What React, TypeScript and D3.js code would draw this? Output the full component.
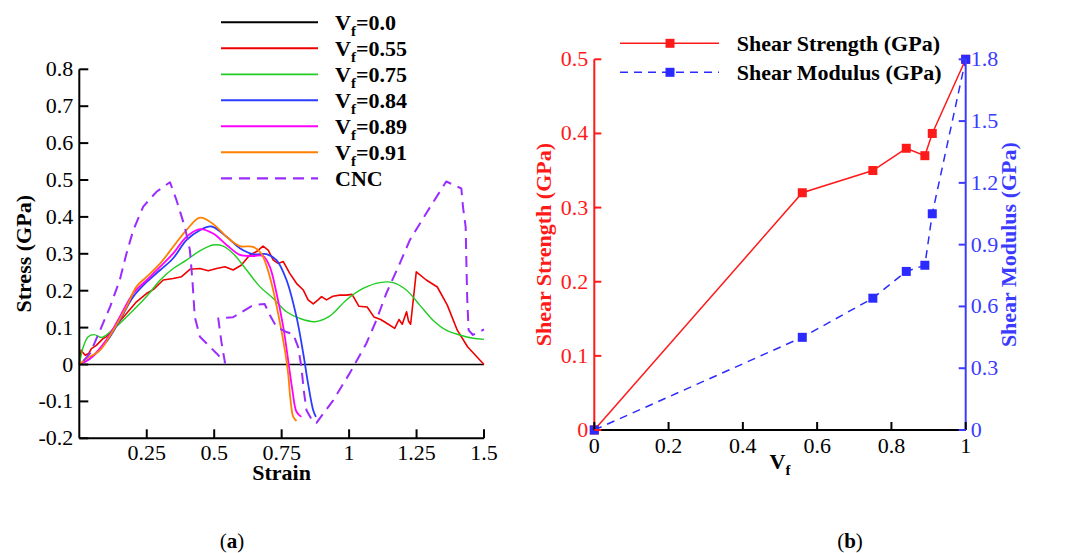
import React from 'react';
import * as d3 from 'd3';

// (a) stress-strain curves, [strain, stress GPa]
const vf00: [number, number][] = [[0, 0], [0.5, 0], [1, 0], [1.5, 0]];

const vf055: [number, number][] = [
  [0, 0], [0.007, 0.039], [0.012, 0.034], [0.022, 0.025], [0.035, 0.03], [0.045, 0.043],
  [0.063, 0.052], [0.088, 0.07], [0.1, 0.075], [0.138, 0.107], [0.175, 0.138],
  [0.212, 0.17], [0.25, 0.193], [0.274, 0.203], [0.311, 0.229], [0.348, 0.233],
  [0.379, 0.238], [0.41, 0.258], [0.447, 0.26], [0.478, 0.254], [0.509, 0.26],
  [0.54, 0.265], [0.57, 0.256], [0.6, 0.269], [0.632, 0.297], [0.657, 0.306],
  [0.681, 0.321], [0.7, 0.31], [0.719, 0.283], [0.737, 0.274], [0.756, 0.279],
  [0.78, 0.247], [0.805, 0.22], [0.83, 0.202], [0.848, 0.175], [0.867, 0.164],
  [0.885, 0.175], [0.898, 0.184], [0.916, 0.175], [0.94, 0.185], [0.965, 0.188],
  [0.99, 0.188], [1.011, 0.19], [1.036, 0.158], [1.067, 0.156], [1.092, 0.129],
  [1.117, 0.122], [1.141, 0.111], [1.169, 0.098], [1.185, 0.122], [1.197, 0.109],
  [1.213, 0.143], [1.22, 0.118], [1.228, 0.109], [1.249, 0.251], [1.286, 0.229],
  [1.327, 0.21], [1.364, 0.161], [1.401, 0.093], [1.439, 0.048], [1.5, 0],
];

const vf075: [number, number][] = [
  [0, 0], [0.015, 0.048], [0.033, 0.075], [0.055, 0.081], [0.083, 0.073],
  [0.1, 0.08], [0.15, 0.111], [0.2, 0.147], [0.25, 0.185], [0.3, 0.229],
  [0.348, 0.26], [0.397, 0.283], [0.447, 0.308], [0.496, 0.324], [0.533, 0.321],
  [0.57, 0.301], [0.62, 0.256], [0.669, 0.211], [0.719, 0.179], [0.768, 0.143],
  [0.817, 0.125], [0.873, 0.116], [0.928, 0.131], [0.99, 0.175], [1.052, 0.206],
  [1.114, 0.222], [1.163, 0.222], [1.212, 0.202], [1.262, 0.161], [1.311, 0.12],
  [1.36, 0.093], [1.41, 0.08], [1.459, 0.071], [1.5, 0.068],
];

const vf084: [number, number][] = [
  [0, 0], [0.04, 0.016], [0.1, 0.061], [0.15, 0.12], [0.2, 0.184], [0.25, 0.224],
  [0.3, 0.256], [0.348, 0.288], [0.397, 0.337], [0.447, 0.364], [0.49, 0.374],
  [0.546, 0.346], [0.595, 0.315], [0.644, 0.299], [0.694, 0.299], [0.731, 0.283],
  [0.768, 0.229], [0.805, 0.129], [0.83, 0.03], [0.848, -0.052], [0.867, -0.124],
  [0.877, -0.142],
];

const vf089: [number, number][] = [
  [0, 0], [0.04, 0.016], [0.1, 0.066], [0.15, 0.129], [0.2, 0.193], [0.25, 0.229],
  [0.3, 0.265], [0.348, 0.301], [0.397, 0.346], [0.447, 0.367], [0.496, 0.355],
  [0.546, 0.324], [0.595, 0.297], [0.644, 0.294], [0.681, 0.294], [0.706, 0.265],
  [0.731, 0.193], [0.756, 0.102], [0.774, 0.012], [0.79, -0.07], [0.805, -0.128],
  [0.823, -0.142],
];

const vf091: [number, number][] = [
  [0, 0], [0.027, 0.016], [0.077, 0.039], [0.126, 0.093], [0.175, 0.156],
  [0.212, 0.211], [0.25, 0.238], [0.3, 0.274], [0.348, 0.319], [0.397, 0.364],
  [0.447, 0.398], [0.496, 0.381], [0.546, 0.346], [0.595, 0.321], [0.644, 0.319],
  [0.675, 0.3], [0.706, 0.238], [0.737, 0.138], [0.762, 0.039], [0.774, -0.024],
  [0.783, -0.097], [0.793, -0.142], [0.805, -0.153],
];

const cnc: [number, number][] = [
  [0.015, 0.01], [0.04, 0.03], [0.077, 0.093], [0.114, 0.156], [0.15, 0.229],
  [0.175, 0.301], [0.2, 0.364], [0.237, 0.428], [0.286, 0.468], [0.336, 0.494],
  [0.36, 0.446], [0.391, 0.373], [0.41, 0.31], [0.42, 0.22], [0.428, 0.129],
  [0.447, 0.075], [0.472, 0.057], [0.509, 0.03], [0.54, 0.005], [0.527, 0.06],
  [0.515, 0.125], [0.57, 0.128], [0.644, 0.161], [0.687, 0.164], [0.706, 0.134],
  [0.731, 0.102], [0.768, 0.088], [0.793, 0.082], [0.811, 0.048], [0.823, -0.006],
  [0.832, -0.07], [0.842, -0.124], [0.867, -0.156], [0.879, -0.158], [0.941, -0.097],
  [1.002, -0.024], [1.064, 0.057], [1.101, 0.12], [1.138, 0.193], [1.188, 0.274],
  [1.225, 0.337], [1.286, 0.41], [1.36, 0.496], [1.416, 0.477], [1.422, 0.428],
  [1.432, 0.373], [1.435, 0.265], [1.438, 0.175], [1.443, 0.093], [1.459, 0.08],
  [1.5, 0.095],
];

const stressTicks = [-0.2, -0.1, 0, 0.1, 0.2, 0.3, 0.4, 0.5, 0.6, 0.7, 0.8];
const strainTicks = [0.25, 0.5, 0.75, 1, 1.25, 1.5];

// (b) shear properties vs fibre fraction
const vfValues = [0, 0.56, 0.75, 0.84, 0.89, 0.91, 1.0];
const shearStrength = [0, 0.32, 0.35, 0.38, 0.37, 0.4, 0.5];
const shearModulus = [0, 0.45, 0.64, 0.77, 0.8, 1.05, 1.8];
const strengthTicks = [0, 0.1, 0.2, 0.3, 0.4, 0.5];
const modulusTicks = [0, 0.3, 0.6, 0.9, 1.2, 1.5, 1.8];
const vfTicks = [0, 0.2, 0.4, 0.6, 0.8, 1];

const curves = [
  { vf: '0.0', data: vf00, color: '#000000', dash: null, smooth: false, w: 1.6 },
  { vf: '0.55', data: vf055, color: '#ee0000', dash: null, smooth: false, w: 1.6 },
  { vf: '0.75', data: vf075, color: '#22cc22', dash: null, smooth: true, w: 1.4 },
  { vf: '0.84', data: vf084, color: '#2a3cff', dash: null, smooth: true, w: 1.8 },
  { vf: '0.89', data: vf089, color: '#ff00ff', dash: null, smooth: true, w: 1.8 },
  { vf: '0.91', data: vf091, color: '#ff8000', dash: null, smooth: true, w: 1.8 },
  { vf: null, data: cnc, color: '#9a2cff', dash: '11,7', smooth: false, w: 2 },
];

const serif = '"Liberation Serif", "Times New Roman", serif';
const fmt = (v: number) => String(+v.toFixed(2));

export default function App() {
  const xL = d3.scaleLinear([0, 1.5], [79.3, 484]);
  const yL = d3.scaleLinear([-0.2, 0.8], [438.3, 69.3]);

  const xR = d3.scaleLinear([0, 1], [594.3, 965.7]);
  const yS = d3.scaleLinear([0, 0.5], [430, 59.3]);
  const yM = d3.scaleLinear([0, 1.8], [430, 59.3]);

  const lineFor = (smooth: boolean) =>
    d3
      .line<[number, number]>()
      .x((d) => xL(d[0]))
      .y((d) => yL(d[1]))
      .curve(smooth ? d3.curveCatmullRom.alpha(0.5) : d3.curveLinear);

  const strengthLine = d3
    .line<number>()
    .x((_, i) => xR(vfValues[i]))
    .y((d) => yS(d));
  const modulusLine = d3
    .line<number>()
    .x((_, i) => xR(vfValues[i]))
    .y((d) => yM(d));

  const tickFont = { fontFamily: serif, fontSize: 22 };
  const boldFont = { fontFamily: serif, fontSize: 22, fontWeight: 'bold' as const };

  return (
    <svg
      width={1070}
      height={553}
      style={{ position: 'absolute', left: 0, top: 0, background: '#fff' }}
    >
      <rect width={1070} height={553} fill="#fff" />

      {/* ---------- (a) ---------- */}
      {curves.map((c, i) => (
        <path
          key={'c' + i}
          d={lineFor(c.smooth)(c.data) || ''}
          fill="none"
          stroke={c.color}
          strokeWidth={c.w}
          strokeDasharray={c.dash || undefined}
          strokeLinejoin="round"
        />
      ))}

      {/* axes */}
      <line x1={xL(0)} x2={xL(0)} y1={yL(0.8)} y2={yL(-0.2)} stroke="#000" strokeWidth={2} />
      <line x1={xL(0)} x2={xL(1.5)} y1={yL(-0.2)} y2={yL(-0.2)} stroke="#000" strokeWidth={2} />
      {stressTicks.map((t) => (
        <g key={'sy' + t}>
          <line x1={xL(0)} x2={xL(0) + 9} y1={yL(t)} y2={yL(t)} stroke="#000" strokeWidth={2} />
          <text x={xL(0) - 6} y={yL(t) + 7} textAnchor="end" {...tickFont}>
            {fmt(t)}
          </text>
        </g>
      ))}
      {strainTicks.map((t) => (
        <g key={'sx' + t}>
          <line x1={xL(t)} x2={xL(t)} y1={yL(-0.2)} y2={yL(-0.2) - 9} stroke="#000" strokeWidth={2} />
          <text x={xL(t)} y={460} textAnchor="middle" {...tickFont}>
            {fmt(t)}
          </text>
        </g>
      ))}
      <text x={xL(0.75)} y={480} textAnchor="middle" {...boldFont}>
        Strain
      </text>
      <text
        transform={`translate(31,${yL(0.3)}) rotate(-90)`}
        textAnchor="middle"
        {...boldFont}
      >
        Stress (GPa)
      </text>

      {/* legend (a) */}
      {curves.map((c, i) => {
        const y = 22.3 + i * 26;
        return (
          <g key={'lg' + i}>
            <line
              x1={221}
              x2={318}
              y1={y}
              y2={y}
              stroke={c.color}
              strokeWidth={c.w + 0.3}
              strokeDasharray={c.dash || undefined}
            />
            <text x={335} y={y + 7.5} {...boldFont}>
              {c.vf === null ? (
                'CNC'
              ) : (
                <>
                  V
                  <tspan fontSize={15} dy={6}>
                    f
                  </tspan>
                  <tspan dy={-6}>={c.vf}</tspan>
                </>
              )}
            </text>
          </g>
        );
      })}

      {/* ---------- (b) ---------- */}
      <path
        d={strengthLine(shearStrength) || ''}
        fill="none"
        stroke="#ff1a1a"
        strokeWidth={1.5}
      />
      <path
        d={modulusLine(shearModulus) || ''}
        fill="none"
        stroke="#2b2bff"
        strokeWidth={1.5}
        strokeDasharray="8,6"
      />
      {shearStrength.map((v, i) => (
        <rect
          key={'ms' + i}
          x={xR(vfValues[i]) - 4.5}
          y={yS(v) - 4.5}
          width={9}
          height={9}
          fill="#ff1a1a"
        />
      ))}
      {shearModulus.map((v, i) => (
        <rect
          key={'mm' + i}
          x={xR(vfValues[i]) - 4.5}
          y={yM(v) - 4.5}
          width={9}
          height={9}
          fill="#2b2bff"
        />
      ))}

      {/* axes (b) */}
      <line x1={xR(0)} x2={xR(1)} y1={yS(0)} y2={yS(0)} stroke="#000" strokeWidth={2} />
      <line x1={xR(0)} x2={xR(0)} y1={yS(0.5)} y2={yS(0)} stroke="#ff1a1a" strokeWidth={2} />
      <line x1={xR(1)} x2={xR(1)} y1={yM(1.8)} y2={yM(0)} stroke="#3b3bff" strokeWidth={2} />
      {vfTicks.map((t) => (
        <g key={'vx' + t}>
          <line x1={xR(t)} x2={xR(t)} y1={yS(0)} y2={yS(0) - 8} stroke="#000" strokeWidth={2} />
          <text x={xR(t)} y={453} textAnchor="middle" {...tickFont}>
            {fmt(t)}
          </text>
        </g>
      ))}
      {strengthTicks.map((t) => (
        <g key={'ty' + t}>
          <line x1={xR(0)} x2={xR(0) + 7} y1={yS(t)} y2={yS(t)} stroke="#ff1a1a" strokeWidth={2} />
          <text x={xR(0) - 6} y={yS(t) + 7} textAnchor="end" fill="#ff1a1a" {...tickFont}>
            {fmt(t)}
          </text>
        </g>
      ))}
      {modulusTicks.map((t) => (
        <g key={'my' + t}>
          <line x1={xR(1)} x2={xR(1) - 7} y1={yM(t)} y2={yM(t)} stroke="#3b3bff" strokeWidth={2} />
          <text x={xR(1) + 5} y={yM(t) + 7} textAnchor="start" fill="#3b3bff" {...tickFont}>
            {fmt(t)}
          </text>
        </g>
      ))}
      <text x={xR(0.5)} y={469} textAnchor="middle" {...boldFont}>
        V
        <tspan fontSize={15} dy={6}>
          f
        </tspan>
      </text>
      <text
        transform={`translate(551,${yS(0.25)}) rotate(-90)`}
        textAnchor="middle"
        fill="#ff1a1a"
        {...boldFont}
      >
        Shear Strength (GPa)
      </text>
      <text
        transform={`translate(1016,${yS(0.25)}) rotate(-90)`}
        textAnchor="middle"
        fill="#3b3bff"
        {...boldFont}
      >
        Shear Modulus (GPa)
      </text>

      {/* legend (b) */}
      <line x1={620} x2={719} y1={43.3} y2={43.3} stroke="#ff1a1a" strokeWidth={1.5} />
      <rect x={665.5} y={38.8} width={9} height={9} fill="#ff1a1a" />
      <text x={736.7} y={51} {...boldFont}>
        Shear Strength (GPa)
      </text>
      <line
        x1={620}
        x2={719}
        y1={72.3}
        y2={72.3}
        stroke="#2b2bff"
        strokeWidth={1.5}
        strokeDasharray="8,6"
      />
      <rect x={665.5} y={67.8} width={9} height={9} fill="#2b2bff" />
      <text x={736.7} y={80} {...boldFont}>
        Shear Modulus (GPa)
      </text>

      {/* captions */}
      <text x={232} y={548} textAnchor="middle" fontFamily={serif} fontSize={21}>
        (<tspan fontWeight="bold">a</tspan>)
      </text>
      <text x={850} y={548} textAnchor="middle" fontFamily={serif} fontSize={21}>
        (<tspan fontWeight="bold">b</tspan>)
      </text>
    </svg>
  );
}
